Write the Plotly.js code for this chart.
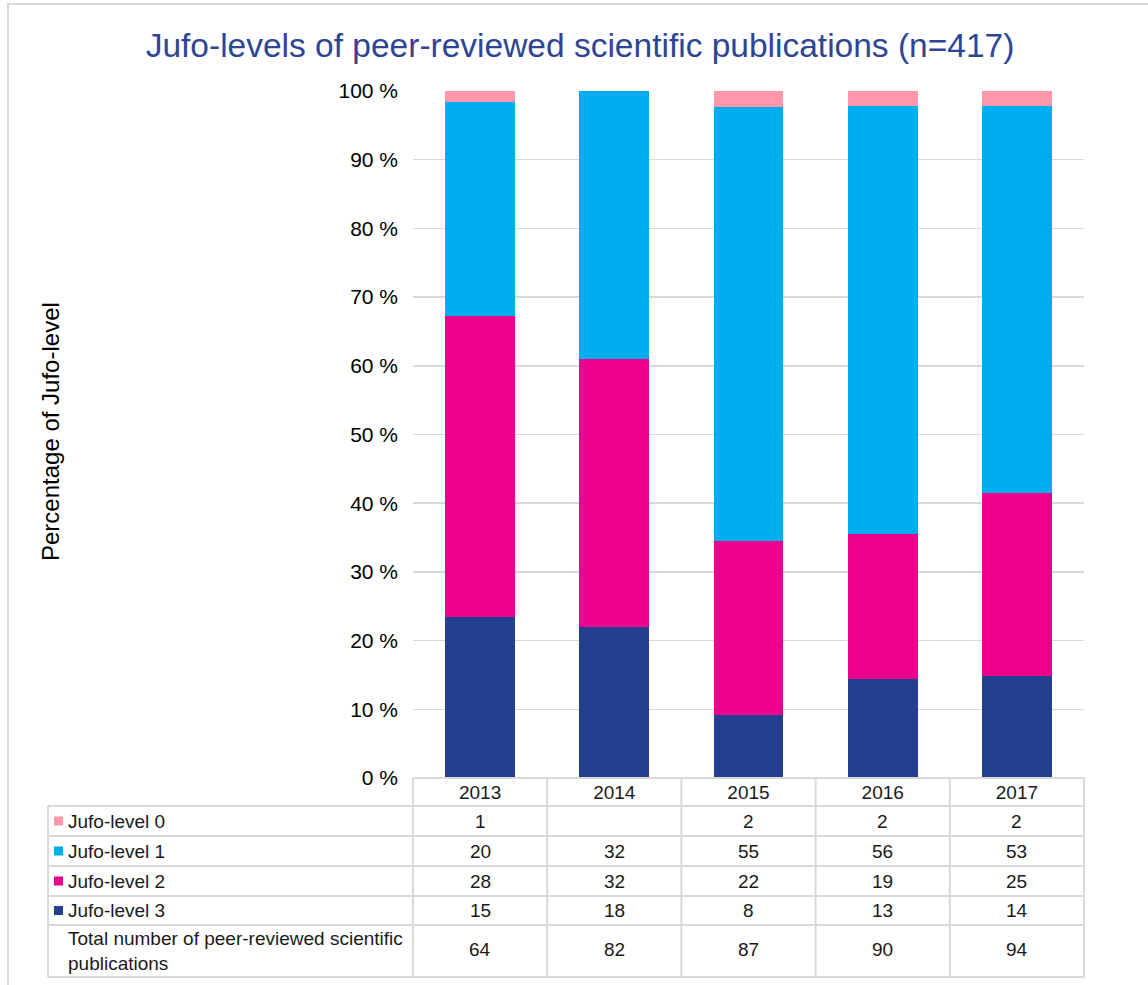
<!DOCTYPE html>
<html>
<head>
<meta charset="utf-8">
<script src="https://cdn.plot.ly/plotly-3.0.1.min.js"></script>
<style>html,body{margin:0;padding:0;background:#fff;}#chart{width:1148px;height:985px;}</style>
</head>
<body>
<div id="chart"></div>
<script>
// ---- data ----
const years = ["2013", "2014", "2015", "2016", "2017"];
const seriesNames = ["Jufo-level 0", "Jufo-level 1", "Jufo-level 2", "Jufo-level 3"];
const level0 = [1, null, 2, 2, 2];
const level1 = [20, 32, 55, 56, 53];
const level2 = [28, 32, 22, 19, 25];
const level3 = [15, 18, 8, 13, 14];
const totals = [64, 82, 87, 90, 94];
const totalLabel = "Total number of peer-reviewed scientific<br>publications";
const seriesColors = ["#FF96A9", "#00AEEF", "#EC008C", "#233F8F"];

// ---- geometry (pixels) ----
const W = 1148, H = 985;
const L = 413, R = 1084, T = 91, B = 778;
const FONT = "Liberation Sans, Arial, sans-serif";
const px = x => (x - L) / (R - L);
const py = y => (B - y) / (B - T);
const rowLines = [806, 836, 866, 896, 925, 977];
const tableLeft = 48;
const gridCol = "#d9d9d9";
const TFS = 19;

const seriesData = [level0, level1, level2, level3];

// bars stacked from the bottom: level 3 first
const traces = [];
for (let i = seriesData.length - 1; i >= 0; i--) {
  traces.push({
    type: "bar",
    name: seriesNames[i],
    x: years,
    y: seriesData[i].map(v => v === null ? 0 : v),
    marker: {color: seriesColors[i], line: {width: 0}},
    hoverinfo: "x+y+name"
  });
}

const shapes = [];
const annotations = [];

// outer frame (left + top visible)
shapes.push({type: "rect", xref: "paper", yref: "paper",
  x0: px(8), x1: px(1170), y0: py(1010), y1: py(4),
  line: {color: "#d9d9d9", width: 2}, fillcolor: "rgba(0,0,0,0)", layer: "below"});

// table horizontal lines
shapes.push({type: "line", xref: "paper", yref: "paper", x0: px(L), x1: px(R), y0: py(B), y1: py(B), line: {color: gridCol, width: 2}});
rowLines.forEach(y => {
  shapes.push({type: "line", xref: "paper", yref: "paper", x0: px(tableLeft), x1: px(R), y0: py(y), y1: py(y), line: {color: gridCol, width: 2}});
});
// table vertical lines
shapes.push({type: "line", xref: "paper", yref: "paper", x0: px(tableLeft), x1: px(tableLeft), y0: py(rowLines[0]), y1: py(rowLines[rowLines.length - 1]), line: {color: gridCol, width: 2}});
for (let c = 0; c <= years.length; c++) {
  const xx = px(L) + c / years.length;
  shapes.push({type: "line", xref: "paper", yref: "paper", x0: xx, x1: xx, y0: py(B), y1: py(rowLines[rowLines.length - 1]), line: {color: gridCol, width: 2}});
}

// series rows
const textCol = "#1a1a1a";
for (let i = 0; i < seriesData.length; i++) {
  const yTop = rowLines[i], yBot = rowLines[i + 1];
  const yc = (yTop + yBot) / 2;
  // legend key
  shapes.push({type: "rect", xref: "paper", yref: "paper",
    x0: px(54), x1: px(63), y0: py(yc + 4.5), y1: py(yc - 4.5),
    fillcolor: seriesColors[i], line: {width: 0}});
  annotations.push({xref: "paper", yref: "paper", x: px(66), y: py(yc), xanchor: "left", yanchor: "middle",
    text: seriesNames[i], showarrow: false, font: {family: FONT, size: TFS, color: textCol}});
  seriesData[i].forEach((v, j) => {
    if (v === null) return;
    annotations.push({xref: "x", yref: "paper", x: j, y: py(yc), xanchor: "center", yanchor: "middle",
      text: String(v), showarrow: false, font: {family: FONT, size: TFS, color: textCol}});
  });
}
// totals row
{
  const yc = (rowLines[4] + rowLines[5]) / 2;
  annotations.push({xref: "paper", yref: "paper", x: px(66), y: py(yc), xanchor: "left", yanchor: "middle", align: "left",
    text: totalLabel, showarrow: false, font: {family: FONT, size: TFS, color: textCol}});
  totals.forEach((v, j) => {
    annotations.push({xref: "x", yref: "paper", x: j, y: py(yc - 2), xanchor: "center", yanchor: "middle",
      text: String(v), showarrow: false, font: {family: FONT, size: TFS, color: textCol}});
  });
}
// y axis title
annotations.push({xref: "paper", yref: "paper", x: px(50), y: py(431), xanchor: "center", yanchor: "middle",
  text: "Percentage of Jufo-level", textangle: -90, showarrow: false, font: {family: FONT, size: 24, color: "#000"}});

const layout = {
  width: W, height: H,
  margin: {l: L, r: W - R, t: T, b: H - B, pad: 0},
  paper_bgcolor: "#fff", plot_bgcolor: "#fff",
  font: {family: FONT, color: "#000"},
  title: {text: "Jufo-levels of peer-reviewed scientific publications (n=417)",
    font: {family: FONT, size: 33.5, color: "#2E4595"},
    xref: "container", yref: "container", x: 580 / W, xanchor: "center", y: 1 - 45 / H, yanchor: "middle"},
  barmode: "stack", barnorm: "percent", bargap: 0.48,
  showlegend: false,
  xaxis: {type: "category", range: [-0.5, years.length - 0.5], autorange: false, showgrid: false, zeroline: false, showline: false, ticks: "",
    tickfont: {family: FONT, size: TFS, color: textCol}, ticklabelstandoff: 1, fixedrange: true},
  yaxis: {range: [0, 100], autorange: false, dtick: 10, tick0: 0, ticksuffix: " %", showgrid: true, gridcolor: gridCol, gridwidth: 1.5,
    zeroline: false, showline: false, ticks: "", ticklabelstandoff: 14,
    tickfont: {family: FONT, size: 21, color: "#000"}, fixedrange: true},
  shapes: shapes,
  annotations: annotations
};

Plotly.newPlot("chart", traces, layout, {displayModeBar: false, staticPlot: true});
</script>
</body>
</html>
